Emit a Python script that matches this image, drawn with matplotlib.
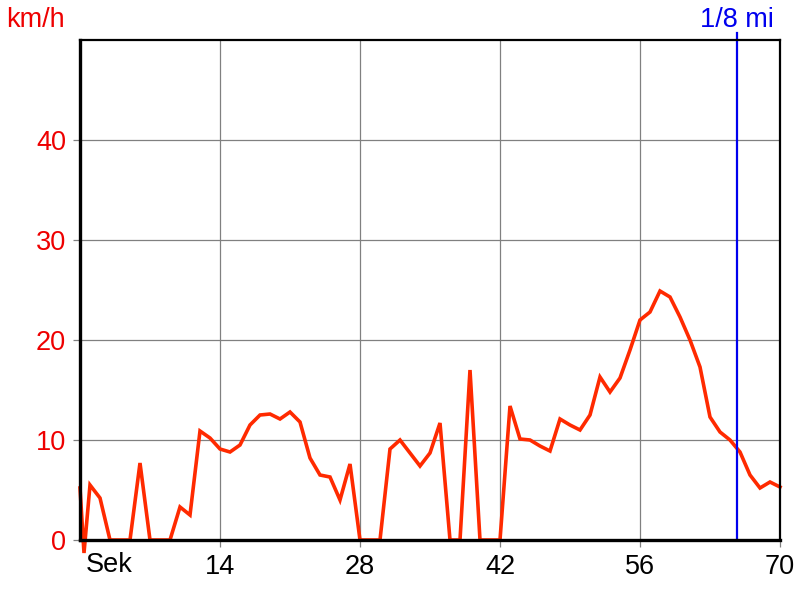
import matplotlib
matplotlib.use("Agg")
import matplotlib.pyplot as plt

times = [0, 0.4, 1, 2, 3, 4, 5, 6, 7, 8, 9, 10, 11, 12, 13, 14, 15, 16, 17, 18, 19,
         20, 21, 22, 23, 24, 25, 26, 27, 28, 29, 30, 31, 32, 33, 34, 35, 36, 37, 38,
         39, 40, 41, 42, 43, 44, 45, 46, 47, 48, 49, 50, 51, 52, 53, 54, 55, 56, 57,
         58, 59, 60, 61, 62, 63, 64, 65, 66, 67, 68, 69, 70]
speed = [5.2, -1.3, 5.5, 4.2, 0, 0, 0, 7.7, 0, 0, 0, 3.3, 2.5, 10.9, 10.2, 9.1, 8.8,
         9.5, 11.5, 12.5, 12.6, 12.1, 12.8, 11.8, 8.2, 6.5, 6.3, 4.0, 7.6, 0, 0, 0,
         9.1, 10.0, 8.7, 7.4, 8.7, 11.7, 0, 0, 17.0, 0, 0, 0, 13.4, 10.1, 10.0, 9.4,
         8.9, 12.1, 11.5, 11.0, 12.5, 16.3, 14.8, 16.2, 19.0, 22.0, 22.8, 24.9, 24.3,
         22.3, 20.0, 17.3, 12.3, 10.8, 10.0, 8.8, 6.5, 5.2, 5.8, 5.3]
x_ticks = [14, 28, 42, 56, 70]
y_ticks = [0, 10, 20, 30, 40]
marker_time = 65.7
marker_label = "1/8 mi"
y_label = "km/h"
x_label = "Sek"

plt.rcParams['font.family'] = ['Liberation Sans', 'DejaVu Sans']
FS = 19.5

fig = plt.figure(figsize=(8, 6), dpi=100)
ax = fig.add_axes([0.1, 0.1, 0.875, 0.8333])
ax.set_xlim(0, 70)
ax.set_ylim(0, 50)

ax.grid(True, color='#808080', linewidth=0.9)
ax.set_axisbelow(True)

ax.plot(times, speed, color='#FF2A00', linewidth=2.6, clip_on=False, zorder=3,
        solid_joinstyle='miter')

ax.axvline(marker_time, ymin=0, ymax=1.014, color='#0000EE', linewidth=1.6,
           clip_on=False, zorder=4)
ax.text(marker_time, 51.3, marker_label, color='#0000EE', fontsize=FS,
        ha='center', va='baseline')

ax.set_xticks(x_ticks)
ax.set_yticks(y_ticks)
ax.tick_params(axis='both', color='#808080', length=5, width=0.9, labelsize=FS,
               pad=5)
ax.tick_params(axis='y', labelcolor='#EE0000')
ax.tick_params(axis='x', labelcolor='black')

ax.text(0.6, -1.2, x_label, fontsize=FS, ha='left', va='top', color='black')
fig.text(6 / 800, 1 - 27 / 600, y_label, fontsize=FS, color='#EE0000',
         ha='left', va='baseline')

for side in ['left', 'bottom']:
    ax.spines[side].set_linewidth(2.4)
for side in ['top', 'right']:
    ax.spines[side].set_linewidth(1.6)
for s in ax.spines.values():
    s.set_color('black')
    s.set_zorder(5)

fig.savefig('out.png', dpi=100)
